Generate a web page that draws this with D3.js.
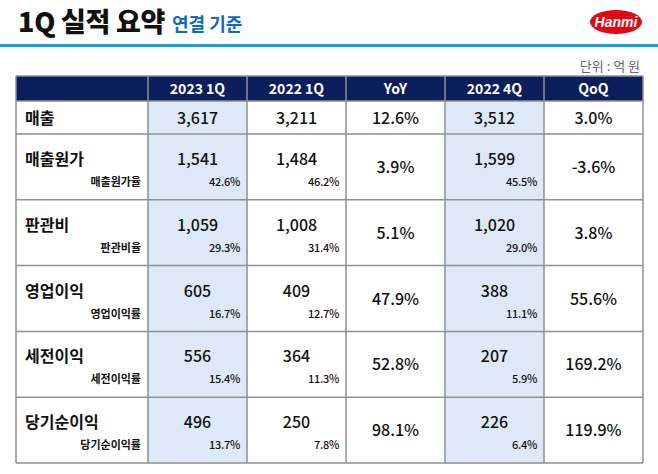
<!DOCTYPE html>
<html><head><meta charset="utf-8">
<script src="https://cdn.jsdelivr.net/npm/d3@7"></script>
<style>
html,body{margin:0;padding:0;background:#fff;}
svg{display:block;font-family:"Noto Sans CJK KR","Noto Sans",sans-serif;}
</style></head>
<body><svg id="c" width="658" height="474"></svg>
<script>
const categories = ['매출','매출원가','판관비','영업이익','세전이익','당기순이익'];
const subLabels = [null,'매출원가율','판관비율','영업이익률','세전이익률','당기순이익률'];
const columns = ['2023 1Q','2022 1Q','YoY','2022 4Q','QoQ'];
const v2023Q1 = [3617,1541,1059,605,556,496];
const r2023Q1 = [null,42.6,29.3,16.7,15.4,13.7];
const v2022Q1 = [3211,1484,1008,409,364,250];
const r2022Q1 = [null,46.2,31.4,12.7,11.3,7.8];
const yoy = [12.6,3.9,5.1,47.9,52.8,98.1];
const v2022Q4 = [3512,1599,1020,388,207,226];
const r2022Q4 = [null,45.5,29.0,11.1,5.9,6.4];
const qoq = [3.0,-3.6,3.8,55.6,169.2,119.9];
const highlighted = ['2023 1Q','2022 4Q'];

const svg = d3.select('#c');
const fmtN = d3.format(',');
const fmtP = v => v.toFixed(1) + '%';

// title
svg.append('text').attr('x',18).attr('y',32).attr('font-size',27).attr('font-weight',900)
  .attr('fill','#111').attr('letter-spacing',-0.3).text('1Q 실적 요약');
svg.append('text').attr('x',172).attr('y',31).attr('font-size',18).attr('font-weight',700)
  .attr('fill','#0b6cc0').text('연결 기준');
svg.append('rect').attr('x',0).attr('y',44).attr('width',658).attr('height',3).attr('fill','#14a0e6');
// logo
svg.append('ellipse').attr('cx',616).attr('cy',22).attr('rx',26).attr('ry',12).attr('fill','#e30613');
svg.append('text').attr('x',616).attr('y',27).attr('text-anchor','middle').attr('font-size',14)
  .attr('font-weight',700).attr('font-style','italic').attr('fill','#fff')
  .attr('font-family','"Liberation Sans",Arial,sans-serif').text('Hanmi');
svg.append('text').attr('x',640).attr('y',71).attr('text-anchor','end').attr('font-size',13)
  .attr('fill','#666').text('단위 : 억 원');

// layout
const left = 16, labelRight = 148, right = 643;
const headTop = 76, headBottom = 101, row1Bottom = 134, bottom = 463;
const x = d3.scaleBand().domain(columns).range([labelRight, right]);
const yRest = d3.scaleBand().domain(categories.slice(1)).range([row1Bottom, bottom]);
const rowTop = c => c === categories[0] ? headBottom : yRest(c);
const rowH = c => c === categories[0] ? row1Bottom - headBottom : yRest.bandwidth();

// header
svg.append('rect').attr('x',left).attr('y',headTop).attr('width',right-left).attr('height',headBottom-headTop).attr('fill','#0c1f5c');
// highlighted columns
svg.selectAll('rect.hl').data(highlighted).join('rect').attr('class','hl')
  .attr('x',d=>x(d)).attr('y',headBottom).attr('width',x.bandwidth()).attr('height',bottom-headBottom)
  .attr('fill','#dde9f6');
svg.selectAll('text.hd').data(columns).join('text').attr('class','hd')
  .attr('x',d=>x(d)+x.bandwidth()/2).attr('y',headTop+18).attr('text-anchor','middle')
  .attr('font-size',14).attr('font-weight',700).attr('fill','#fff').text(d=>d);

// grid lines
const g = svg.append('g').attr('stroke','#8f8f8f').attr('stroke-width',1.5);
const hys = [headTop, headBottom, row1Bottom, ...categories.slice(2).map(c=>yRest(c)), bottom];
g.selectAll('line.h').data(hys).join('line').attr('x1',left).attr('x2',right).attr('y1',d=>d).attr('y2',d=>d);
const vxs = [left, labelRight, ...columns.slice(1).map(c=>x(c)), right];
g.selectAll('line.v').data(vxs).join('line').attr('y1',headTop).attr('y2',bottom).attr('x1',d=>d).attr('x2',d=>d);

// row labels
categories.forEach((c,i)=>{
  const t = rowTop(c), h = rowH(c);
  const hasSub = subLabels[i] !== null;
  svg.append('text').attr('x',25).attr('y', hasSub ? t+31 : t+h/2+6)
    .attr('font-size',16).attr('font-weight',700).attr('fill','#111').text(c);
  if (hasSub) svg.append('text').attr('x',141).attr('y',t+52).attr('text-anchor','end')
    .attr('font-size',11).attr('font-weight',700).attr('fill','#111').text(subLabels[i]);
});

// values
const colData = {
  '2023 1Q': {v:v2023Q1, r:r2023Q1},
  '2022 1Q': {v:v2022Q1, r:r2022Q1},
  'YoY': {p:yoy},
  '2022 4Q': {v:v2022Q4, r:r2022Q4},
  'QoQ': {p:qoq}
};
columns.forEach(col=>{
  const d = colData[col];
  const cx = x(col) + x.bandwidth()/2;
  categories.forEach((c,i)=>{
    const t = rowTop(c), h = rowH(c);
    if (d.p) {
      svg.append('text').attr('x',cx).attr('y',t+h/2+6).attr('text-anchor','middle')
        .attr('font-size',16).attr('font-weight',500).attr('fill','#111').text(fmtP(d.p[i]));
    } else {
      const hasSub = d.r[i] !== null;
      svg.append('text').attr('x',cx).attr('y', hasSub ? t+31 : t+h/2+6).attr('text-anchor','middle')
        .attr('font-size',16).attr('font-weight',500).attr('fill','#111').text(fmtN(d.v[i]));
      if (hasSub) svg.append('text').attr('x',x(col)+x.bandwidth()-7).attr('y',t+52).attr('text-anchor','end')
        .attr('font-size',11).attr('font-weight',500).attr('fill','#111').attr('letter-spacing',-0.3).text(fmtP(d.r[i]));
    }
  });
});
</script></body></html>
